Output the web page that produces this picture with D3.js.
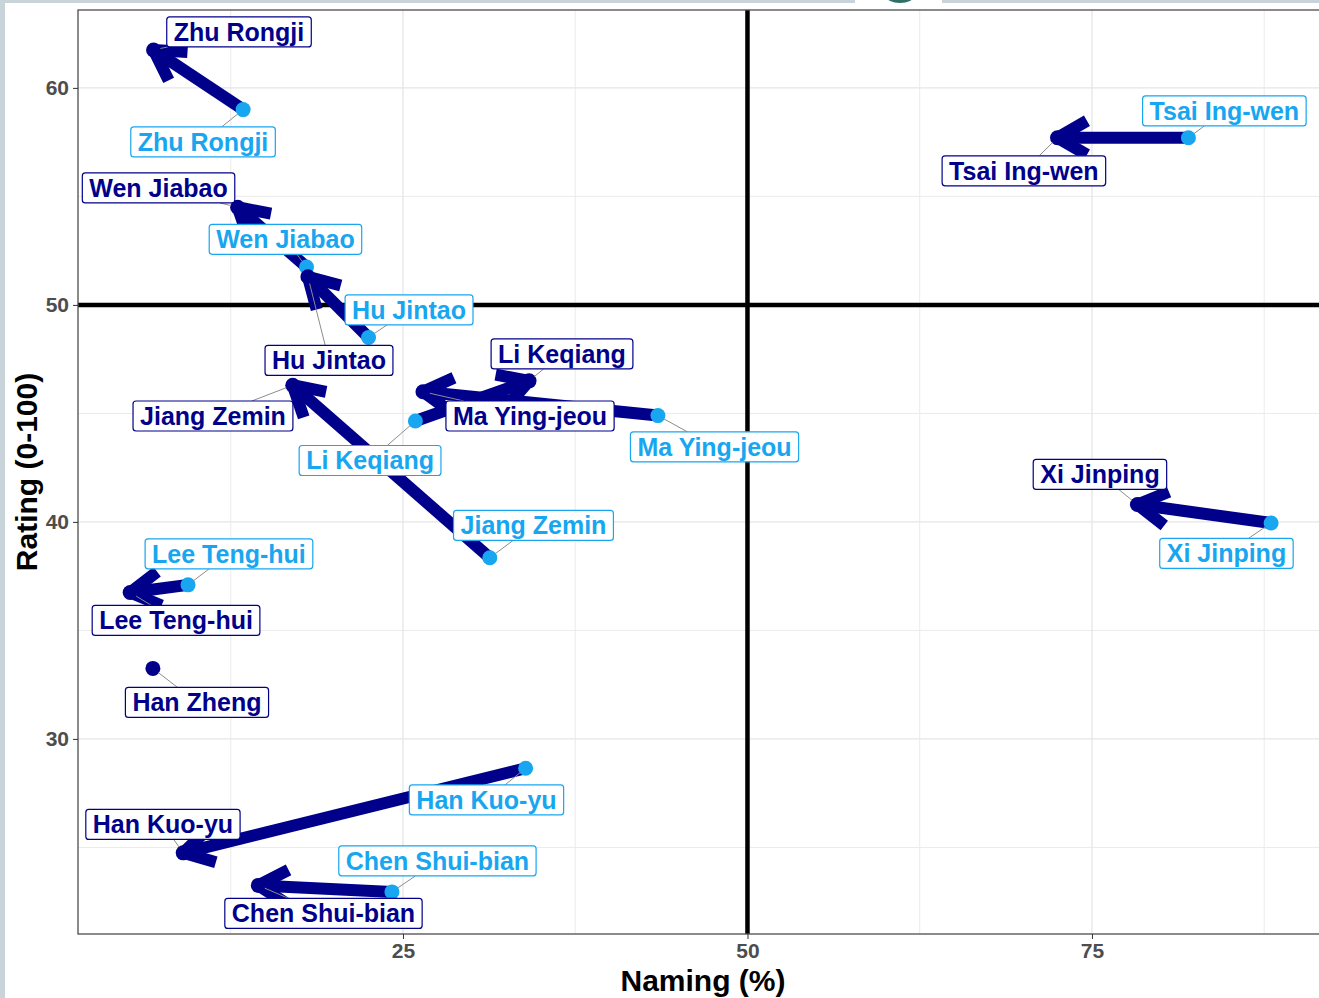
<!DOCTYPE html>
<html>
<head>
<meta charset="utf-8">
<script src="https://cdn.jsdelivr.net/npm/d3@7"></script>
<style>
  body { margin: 0; background: #fff; }
  svg { display: block; font-family: "Liberation Sans", Arial, sans-serif; }
</style>
</head>
<body>
<svg id="chart" width="1319" height="998"></svg>
<script>
// leaders and their (start -> end) positions
const leaders = ["Zhu Rongji", "Wen Jiabao", "Hu Jintao", "Jiang Zemin", "Li Keqiang", "Ma Ying-jeou",
    "Tsai Ing-wen", "Xi Jinping", "Lee Teng-hui", "Han Zheng", "Han Kuo-yu", "Chen Shui-bian"];
const namingStart = [13.4, 18.0, 22.5, 31.3, 25.9, 43.5, 82.0, 88.0, 9.4, null, 33.9, 24.2];
const ratingStart = [59.0, 51.75, 48.5, 38.35, 44.65, 44.9, 57.7, 39.95, 37.1, null, 28.65, 22.95];
const namingEnd = [6.9, 13.0, 18.1, 17.0, 34.15, 26.45, 72.5, 78.3, 5.2, 6.85, 9.05, 14.5];
const ratingEnd = [61.75, 54.5, 51.3, 46.3, 46.5, 46.0, 57.7, 40.8, 36.75, 33.25, 24.75, 23.25];

// repelled label placement (data units)
const endLabelX = [13.1, 7.26, 19.63, 11.21, 36.54, 34.22, 70.06, 75.58, 8.53, 10.05, 7.58, 19.23];
const endLabelY = [62.58, 55.39, 47.44, 44.88, 47.74, 44.88, 56.18, 42.19, 35.46, 31.68, 26.06, 21.96];
const startLabelX = [10.49, 16.47, 25.44, 34.47, 22.61, 47.61, 84.61, 84.76, 12.37, null, 31.06, 27.5];
const startLabelY = [57.51, 53.02, 49.77, 39.84, 42.83, 43.46, 58.94, 38.55, 38.53, null, 27.19, 24.38];

const xTicks = [25, 50, 75];
const yTicks = [30, 40, 50, 60];
const xMinor = [12.5, 37.5, 62.5, 87.5];
const yMinor = [25, 35, 45, 55];

const darkCol = "#00008B";
const lightCol = "#17A6EF";

const svg = d3.select("#chart");
const W = 1319, H = 998;
const pLeft = 78, pTop = 10, pRight = 1328, pBottom = 934;

svg.append("rect").attr("width", W).attr("height", H).attr("fill", "#fff");
// screenshot frame bits
svg.append("rect").attr("x", 0).attr("y", 0).attr("width", 5).attr("height", H).attr("fill", "#C9D3DA");
svg.append("rect").attr("x", 0).attr("y", 0).attr("width", 855).attr("height", 3).attr("fill", "#C9D3DA");
svg.append("rect").attr("x", 942).attr("y", 0).attr("width", W - 942).attr("height", 3).attr("fill", "#C9D3DA");
svg.append("ellipse").attr("cx", 900).attr("cy", -4).attr("rx", 14).attr("ry", 7).attr("fill", "#2F6F67");

const x = d3.scaleLinear().domain([1.415, 92.13]).range([pLeft, pRight]);
const y = d3.scaleLinear().domain([21.01, 63.59]).range([pBottom, pTop]);

svg.append("defs").append("clipPath").attr("id", "panel")
    .append("rect").attr("x", pLeft).attr("y", pTop).attr("width", pRight - pLeft).attr("height", pBottom - pTop);

const panel = svg.append("g").attr("clip-path", "url(#panel)");

// grid
panel.selectAll(".vminor").data(xMinor).enter().append("line")
    .attr("x1", d => x(d)).attr("x2", d => x(d)).attr("y1", pTop).attr("y2", pBottom)
    .attr("stroke", "#EBEBEB").attr("stroke-width", 1);
panel.selectAll(".hminor").data(yMinor).enter().append("line")
    .attr("y1", d => y(d)).attr("y2", d => y(d)).attr("x1", pLeft).attr("x2", pRight)
    .attr("stroke", "#EBEBEB").attr("stroke-width", 1);
panel.selectAll(".vmajor").data(xTicks).enter().append("line")
    .attr("x1", d => x(d)).attr("x2", d => x(d)).attr("y1", pTop).attr("y2", pBottom)
    .attr("stroke", "#E6E6E6").attr("stroke-width", 1.3);
panel.selectAll(".hmajor").data(yTicks).enter().append("line")
    .attr("y1", d => y(d)).attr("y2", d => y(d)).attr("x1", pLeft).attr("x2", pRight)
    .attr("stroke", "#E6E6E6").attr("stroke-width", 1.3);

// reference lines
panel.append("line").attr("x1", x(50)).attr("x2", x(50)).attr("y1", pTop).attr("y2", pBottom)
    .attr("stroke", "#000").attr("stroke-width", 4.5);
panel.append("line").attr("y1", y(50)).attr("y2", y(50)).attr("x1", pLeft).attr("x2", pRight)
    .attr("stroke", "#000").attr("stroke-width", 4.5);

const rows = leaders.map((name, i) => ({
    name,
    xs: namingStart[i], ys: ratingStart[i],
    xe: namingEnd[i], ye: ratingEnd[i],
    lxe: endLabelX[i], lye: endLabelY[i],
    lxs: startLabelX[i], lys: startLabelY[i]
}));
const moves = rows.filter(d => d.xs != null);

// arrows
const headLen = 34, headAng = Math.PI / 6;
moves.forEach(d => {
    const x0 = x(d.xs), y0 = y(d.ys), x1 = x(d.xe), y1 = y(d.ye);
    const a = Math.atan2(y0 - y1, x0 - x1);
    const b1 = [x1 + headLen * Math.cos(a + headAng), y1 + headLen * Math.sin(a + headAng)];
    const b2 = [x1 + headLen * Math.cos(a - headAng), y1 + headLen * Math.sin(a - headAng)];
    panel.append("line").attr("x1", x0).attr("y1", y0).attr("x2", x1).attr("y2", y1)
        .attr("stroke", darkCol).attr("stroke-width", 12);
    panel.append("path").attr("d", `M${b1[0]},${b1[1]}L${x1},${y1}L${b2[0]},${b2[1]}`)
        .attr("fill", "none").attr("stroke", darkCol).attr("stroke-width", 12)
        .attr("stroke-linejoin", "round");
});

// points
panel.selectAll(".startPt").data(moves).enter().append("circle")
    .attr("cx", d => x(d.xs)).attr("cy", d => y(d.ys)).attr("r", 7.5).attr("fill", lightCol);
panel.selectAll(".endPt").data(rows).enter().append("circle")
    .attr("cx", d => x(d.xe)).attr("cy", d => y(d.ye)).attr("r", 7.5).attr("fill", darkCol);

// labels with leader segments
function addLabel(text, px, py, lx, ly, col) {
    const g = panel.append("g");
    const seg = g.append("line").attr("stroke", "#8C8C8C").attr("stroke-width", 1);
    const rect = g.append("rect").attr("fill", "#fff").attr("stroke", col).attr("stroke-width", 1.2)
        .attr("rx", 3).attr("ry", 3);
    const t = g.append("text").attr("x", lx).attr("y", ly).attr("dy", "0.36em")
        .attr("text-anchor", "middle").attr("font-size", 25).attr("font-weight", "bold")
        .attr("fill", col).text(text);
    const bb = t.node().getBBox();
    const padX = 7, h = 30;
    const bw = bb.width + 2 * padX;
    rect.attr("x", lx - bw / 2).attr("y", ly - h / 2).attr("width", bw).attr("height", h);
    // clip segment to box edge
    const dx = lx - px, dy = ly - py;
    const sx = dx === 0 ? Infinity : (bw / 2) / Math.abs(dx);
    const sy = dy === 0 ? Infinity : (h / 2) / Math.abs(dy);
    const s = Math.min(sx, sy, 1);
    const ex = lx - dx * s, ey = ly - dy * s;
    const len = Math.hypot(ex - px, ey - py);
    if (len > 12) {
        const u = 7 / len;
        seg.attr("x1", px + (ex - px) * u).attr("y1", py + (ey - py) * u).attr("x2", ex).attr("y2", ey);
    }
}
moves.forEach(d => addLabel(d.name, x(d.xs), y(d.ys), x(d.lxs), y(d.lys), lightCol));
rows.forEach(d => addLabel(d.name, x(d.xe), y(d.ye), x(d.lxe), y(d.lye), darkCol));

// panel border
svg.append("rect").attr("x", pLeft).attr("y", pTop).attr("width", pRight - pLeft).attr("height", pBottom - pTop)
    .attr("fill", "none").attr("stroke", "#4D4D4D").attr("stroke-width", 1.3);

// axes
const xAxis = svg.append("g").attr("transform", `translate(0,${pBottom})`)
    .call(d3.axisBottom(x).tickValues(xTicks).tickSize(5).tickPadding(4));
const yAxis = svg.append("g").attr("transform", `translate(${pLeft},0)`)
    .call(d3.axisLeft(y).tickValues(yTicks).tickSize(5).tickPadding(4));
[xAxis, yAxis].forEach(ax => {
    ax.select(".domain").remove();
    ax.selectAll(".tick line").attr("stroke", "#333");
    ax.selectAll(".tick text").attr("fill", "#4D4D4D").attr("font-size", 21)
        .attr("font-weight", "bold").attr("font-family", "Liberation Sans, Arial, sans-serif");
});

svg.append("text").attr("x", (pLeft + pRight) / 2).attr("y", 991).attr("text-anchor", "middle")
    .attr("font-size", 30).attr("font-weight", "bold").text("Naming (%)");
svg.append("text").attr("transform", `translate(37,${(pTop + pBottom) / 2}) rotate(-90)`)
    .attr("text-anchor", "middle").attr("font-size", 30).attr("font-weight", "bold")
    .text("Rating (0-100)");
</script>
</body>
</html>
